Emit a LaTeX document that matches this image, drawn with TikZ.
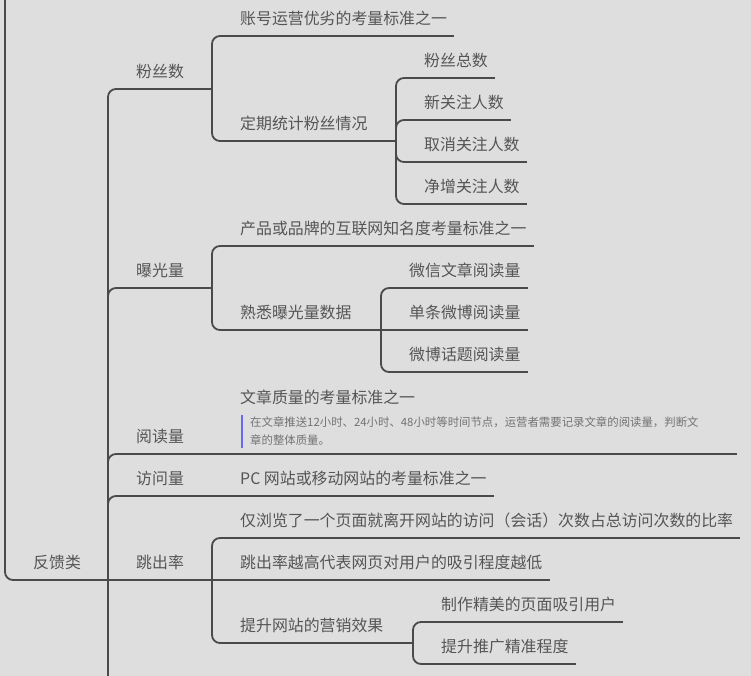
\documentclass[tikz,border=0pt]{standalone}
\usepackage{fontspec}
\setmainfont{Noto Sans CJK SC}
\usepackage{xcolor}
\usepackage{tikz}
\definecolor{map_bg}{RGB}{222,222,222}
\definecolor{map_line}{RGB}{74,74,74}
\definecolor{map_text}{RGB}{85,85,85}
\definecolor{map_note}{RGB}{115,115,115}
\definecolor{map_bar}{RGB}{105,105,245}
\newcommand{\mapfont}{\fontsize{15.9}{19}\selectfont}
\newcommand{\mapnotefont}{\fontsize{11.4}{18}\selectfont}
\tikzset{
  branch/.style={draw=map_line, line width=1.8pt, rounded corners=8pt},
  topic/.style={anchor=south west, inner xsep=7pt, inner ysep=11pt,
    text depth=0pt, text=map_text, font=\mapfont,
    append after command={(\tikzlastnode.south west) edge[branch]
      (\tikzlastnode.south east)}},
  notetext/.style={anchor=north west, inner xsep=0pt, inner ysep=2pt,
    align=left, text=map_note, font=\mapnotefont},
  notebar/.style={draw=map_bar, line width=2pt}
}

\begin{document}
\begin{tikzpicture}[x=1pt, y=-1pt]
        \fill[map_bg] (0,0) rectangle (751,676);
        \clip (0,0) rectangle (751,676);
        % Root
        \coordinate (top) at (5,-20);
        \node[topic] (fb) at (26,580) {反馈类};
        \coordinate (fb-f) at (108,580);
        \coordinate (more) at (108,700);
        \draw[branch] (top) |- (fb.south west);
        \draw[branch] (fb.south east) -- (fb-f);
        \draw[branch] (fb-f) -- (more);
        % First level
        \node[topic] (fans) at (129,89) {粉丝数};
        \node[topic] (expo) at (129,288) {曝光量};
        \node[topic] (read) at (129,454) {阅读量};
        \node[topic] (visit) at (129,496) {访问量};
        \node[topic] (bounce) at (129,580) {跳出率};
        \foreach \n in {fans,expo,read,visit}
          \draw[branch] (fb-f) |- (\n.south west);
        \draw[branch] (fb-f) -- (bounce.south west);
        % Fans
        \coordinate (fans-f) at (212,89);
        \node[topic] (acct) at (233,36) {账号运营优劣的考量标准之一};
        \node[topic] (stat) at (233,141) {定期统计粉丝情况};
        \draw[branch] (fans.south east) -- (fans-f);
        \draw[branch] (fans-f) |- (acct.south west);
        \draw[branch] (fans-f) |- (stat.south west);
        \coordinate (stat-f) at (396,141);
        \node[topic] (total) at (417,78) {粉丝总数};
        \node[topic] (newf) at (417,120) {新关注人数};
        \node[topic] (unf) at (417,162) {取消关注人数};
        \node[topic] (net) at (417,204) {净增关注人数};
        \draw[branch] (stat.south east) -- (stat-f);
        \foreach \n in {total,newf,unf,net}
          \draw[branch] (stat-f) |- (\n.south west);
        % Exposure
        \coordinate (expo-f) at (212,288);
        \node[topic] (brand) at (233,246) {产品或品牌的互联网知名度考量标准之一};
        \node[topic] (know) at (233,330) {熟悉曝光量数据};
        \draw[branch] (expo.south east) -- (expo-f);
        \draw[branch] (expo-f) |- (brand.south west);
        \draw[branch] (expo-f) |- (know.south west);
        \coordinate (know-f) at (381,330);
        \node[topic] (wx) at (402,288) {微信文章阅读量};
        \node[topic] (wb) at (402,330) {单条微博阅读量};
        \node[topic] (wbt) at (402,372) {微博话题阅读量};
        \draw[branch] (know.south east) -- (know-f);
        \draw[branch] (know-f) |- (wx.south west);
        \draw[branch] (know-f) -- (wb.south west);
        \draw[branch] (know-f) |- (wbt.south west);
        % Reads, with note
        \coordinate (read-f) at (212,454);
        \node[topic, text width=490pt, inner ysep=50.3pt] (art) at (233,454)
          {\noindent 文章质量的考量标准之一};
        \node[notetext] (artnote) at (250,415)
          {在文章推送12小时、24小时、48小时等时间节点，运营者需要记录文章的阅读量，判断文\\
           章的整体质量。};
        \draw[notebar] ([xshift=-8.5pt]artnote.north west)
          -- ([xshift=-8.5pt]artnote.south west);
        \draw[branch] (read.south east) -- (read-f) -- (art.south west);
        % Visits
        \coordinate (visit-f) at (212,496);
        \node[topic] (pc) at (233,496) {PC 网站或移动网站的考量标准之一};
        \draw[branch] (visit.south east) -- (visit-f) -- (pc.south west);
        % Bounce rate
        \coordinate (bounce-f) at (212,580);
        \node[topic] (ratio) at (233,538)
          {仅浏览了一个页面就离开网站的访问（会话）次数占总访问次数的比率};
        \node[topic] (low) at (233,580) {跳出率越高代表网页对用户的吸引程度越低};
        \node[topic] (effect) at (233,643) {提升网站的营销效果};
        \draw[branch] (bounce.south east) -- (bounce-f);
        \draw[branch] (bounce-f) |- (ratio.south west);
        \draw[branch] (bounce-f) -- (low.south west);
        \draw[branch] (bounce-f) |- (effect.south west);
        \coordinate (effect-f) at (413,643);
        \node[topic] (page) at (434,622) {制作精美的页面吸引用户};
        \node[topic] (prec) at (434,664) {提升推广精准程度};
        \draw[branch] (effect.south east) -- (effect-f);
        \draw[branch] (effect-f) |- (page.south west);
        \draw[branch] (effect-f) |- (prec.south west);
      \end{tikzpicture}
\end{document}
